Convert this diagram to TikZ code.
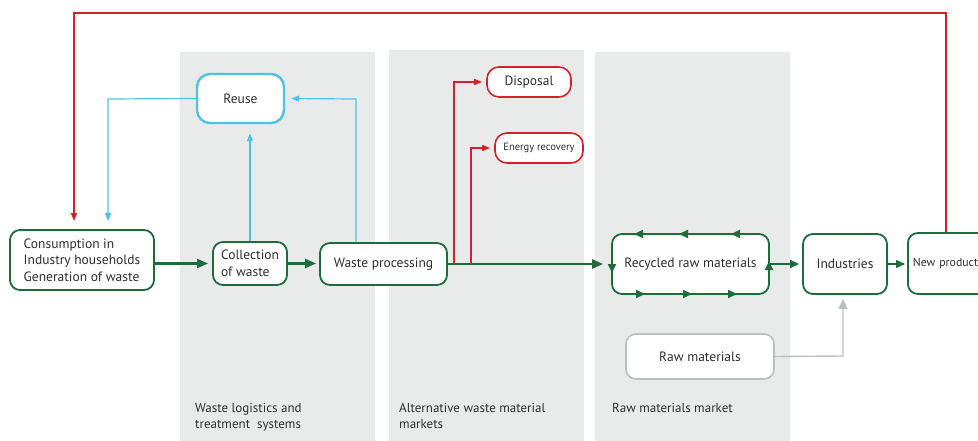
\documentclass[tikz,border=0pt]{standalone}
\usepackage{fontspec}
\setmainfont{PT Sans}
\usetikzlibrary{arrows.meta}
\definecolor{cgreen}{HTML}{1E6B3C}
\definecolor{cblue}{HTML}{4EC3E3}
\definecolor{cred}{HTML}{D2232A}
\definecolor{cpanel}{HTML}{E9EBEB}
\definecolor{cgrey}{HTML}{B8C2BE}
\definecolor{ctext}{HTML}{2E2E2E}
\tikzset{
  box/.style={draw=cgreen, line width=1.8pt, rounded corners=10pt, fill=white,
    text=ctext, font=\fontsize{13.5}{16.5}\selectfont, inner sep=4pt},
  bluebox/.style={box, draw=cblue, line width=2.4pt, rounded corners=13pt},
  redbox/.style={box, draw=cred, line width=1.6pt, rounded corners=12pt},
  greybox/.style={box, draw=cgrey, line width=1.6pt},
  gflow/.style={draw=cgreen, line width=2.2pt, -{Triangle[length=11pt,width=9pt]}},
  gthin/.style={draw=cgreen, line width=1.2pt, -{Triangle[length=9pt,width=8pt]}},
  bflow/.style={draw=cblue, line width=1.2pt, -{Triangle[length=8pt,width=6pt]}},
  rflow/.style={draw=cred, line width=1.2pt, -{Triangle[length=8pt,width=6pt]}},
  yflow/.style={draw=cgrey, line width=1.4pt, -{Triangle[length=10pt,width=9pt]}},
  edgetip/.style={draw=cgreen, line width=1.8pt, -{Triangle[length=9pt,width=8pt]}},
  panel/.style={fill=cpanel, draw=none},
  caption/.style={text=ctext, font=\fontsize{13}{16}\selectfont, align=left, anchor=north west, inner sep=0pt}
}
\begin{document}
\begin{tikzpicture}[x=1pt,y=-1pt]
\useasboundingbox (0,0) rectangle (978,441);
\clip (0,0) rectangle (978,441);

% market panels
\fill[panel] (180,52) rectangle (375,441);
\fill[panel] (389,50) rectangle (584,441);
\fill[panel] (595,52) rectangle (790,441);

% panel captions
\node[caption] (capA) at (195,403) {Waste logistics and\\treatment\ \ systems};
\node[caption] (capB) at (399,403) {Alternative waste material\\markets};
\node[caption] (capC) at (612,403) {Raw materials market};

% nodes
\node[box, minimum width=144pt, minimum height=60pt, align=left] (cons) at (82,260)
  {Consumption in\\Industry households\\Generation of waste};
\node[box, minimum width=74pt, minimum height=43pt, align=left] (coll) at (250,263.5)
  {Collection\\of waste};
\node[box, minimum width=127pt, minimum height=42pt] (proc) at (383.5,264) {Waste processing};
\node[bluebox, minimum width=87pt, minimum height=49pt] (reuse) at (240.5,98.5) {Reuse};
\node[redbox, minimum width=84pt, minimum height=30pt] (disp) at (529,82) {Disposal};
\node[redbox, minimum width=88pt, minimum height=30pt, font=\fontsize{10.5}{12}\selectfont] (energy) at (539,148) {Energy recovery};
\node[box, minimum width=157pt, minimum height=60pt] (recyc) at (690.5,264) {Recycled raw materials};
\node[box, minimum width=84pt, minimum height=60pt] (ind) at (845,264) {Industries};
\node[box, minimum width=90pt, minimum height=61pt, anchor=west, text width=80pt, align=left,
  inner xsep=4pt, font=\fontsize{11.8}{14}\selectfont] (newp) at (907,263.5) {New product};
\node[greybox, minimum width=148pt, minimum height=45pt] (raw) at (700,356.5) {Raw materials};

% circulation marks on the recycled-materials border
\draw[edgetip] (646,234) -- (634,234);
\draw[edgetip] (691,234) -- (679,234);
\draw[edgetip] (743,234) -- (731,234);
\draw[edgetip] (633,294) -- (645,294);
\draw[edgetip] (680,294) -- (692,294);
\draw[edgetip] (725,294) -- (737,294);
\draw[edgetip] (612,259) -- (612,273);
\draw[edgetip] (769,274) -- (769,261);

% main material flow
\draw[gflow, shorten >=4pt] (coll.west -| cons.east) -- (coll.west);
\draw[gflow, shorten >=3pt] (coll.east) -- (coll.east -| proc.west);
\draw[gflow, shorten >=8pt] (proc.east) -- (proc.east -| recyc.west);
\draw[gthin, shorten >=3pt] (recyc.east) -- (ind.west);
\draw[gthin, shorten >=2pt] (ind.east) -- (ind.east -| newp.west);

% reuse loops
\draw[bflow, shorten >=9pt] (coll.north) -- (coll.north |- reuse.south);
\coordinate (pr) at (356,99);
\draw[bflow, shorten >=6pt] (proc.north -| pr) -- (pr) -- (reuse.east);
\coordinate (rl) at (108,99);
\draw[bflow, shorten >=8pt] (reuse.west) -- (rl) -- (cons.north -| rl);

% disposal and energy recovery branches
\coordinate (d0) at (454,264);
\coordinate (e0) at (471,264);
\draw[rflow, shorten >=4pt] (d0) |- (disp.west);
\draw[rflow, shorten >=4pt] (e0) |- (energy.west);

% primary raw materials
\coordinate (rw) at (843,356);
\draw[yflow, shorten >=4pt] (raw.east) -- (rw) -- (ind.south -| rw);

% product loop back to consumption
\coordinate (tr) at (946,13);
\coordinate (tl) at (74,13);
\draw[rflow, shorten >=8pt] (newp.north -| tr) -- (tr) -- (tl) -- (cons.north -| tl);
\end{tikzpicture}
\end{document}
